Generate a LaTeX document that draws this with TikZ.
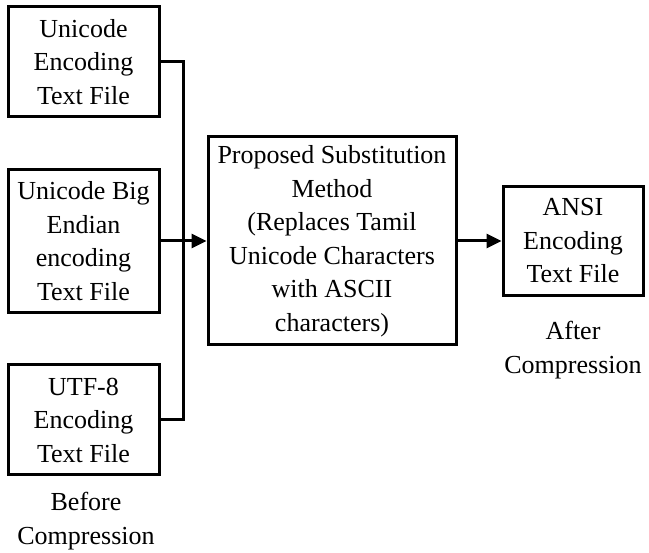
\documentclass[tikz,border=0pt]{standalone}
\usepackage{fontspec}
\setmainfont{Liberation Serif}
\usetikzlibrary{arrows.meta}
\begin{document}
\begin{tikzpicture}[x=1pt,y=-1pt,
  every node/.style={font=\fontsize{26}{33.5}\selectfont},
  box/.style={draw, line width=3pt, align=center, inner sep=0pt},
  conn/.style={line width=3pt, line join=miter},
  arr/.style={conn, -{Triangle[length=15pt,width=14pt]}},
  lbl/.style={align=center, inner sep=0pt}]
\useasboundingbox (0,0) rectangle (649,553);
\node[box, minimum width=151pt, minimum height=110pt] (b1) at (83.5,62) {Unicode\\Encoding\\Text File};
\node[box, minimum width=151pt, minimum height=143pt] (b2) at (83.5,241) {Unicode Big\\Endian\\encoding\\Text File};
\node[box, minimum width=151pt, minimum height=110pt] (b3) at (83.5,420) {UTF-8\\Encoding\\Text File};
\node[box, minimum width=248pt, minimum height=208pt] (mid) at (332,241) {Proposed Substitution\\Method\\(Replaces Tamil\\Unicode Characters\\with ASCII\\characters)};
\node[box, minimum width=140pt, minimum height=109pt] (out) at (573,241) {ANSI\\Encoding\\Text File};
\node[lbl] (before) at (86,521) {Before\\Compression};
\node[lbl] (after) at (573,350) {After\\Compression};
\coordinate (jx) at (183,0);
\draw[conn] (b1.east) -- (b1.east -| jx) -- (b3.east -| jx) -- (b3.east);
\draw[arr] (b2.east) -- (mid.west);
\draw[arr] (mid.east) -- (out.west);
\end{tikzpicture}
\end{document}
